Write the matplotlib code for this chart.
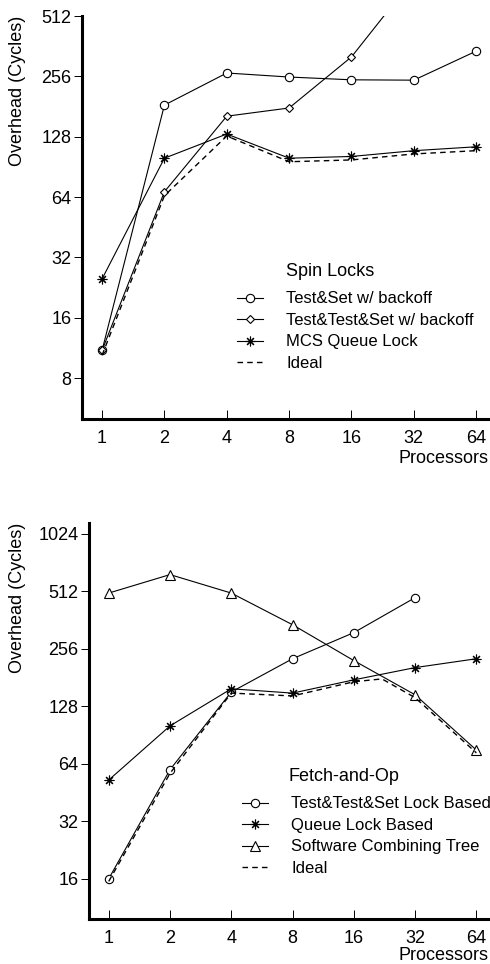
import numpy as np
import matplotlib
matplotlib.use("Agg")
import matplotlib.pyplot as plt
from matplotlib.lines import Line2D
from matplotlib.ticker import FixedLocator, FixedFormatter, NullLocator

plt.rcParams['font.family'] = ['Liberation Sans', 'DejaVu Sans']

# processor counts on the x axis
procs = [1, 2, 4, 8, 16, 32, 64]

# spin locks (top panel)
spin_ts_backoff = [11, 184, 266, 254, 246, 245, 342]
spin_tts_backoff = [11, 68, 162, 178, 320, 790]          # leaves the plot after 16
spin_mcs = [25, 100, 132, 100, 102, 109, 114]
spin_ideal = [10.4, 65, 129, 96, 98, 105, 109]

# fetch-and-op (bottom panel)
fop_tts_lock = [16, 59.6, 152, 227, 311, 474]             # 1..32 only
fop_queue_lock = [52.6, 101, 158, 150, 176, 204, 227]
fop_comb_tree = [501, 626, 501, 342, 222, 147, 75.5]
fop_ideal_procs = [1, 2, 4, 8, 16, 22, 32, 64]
fop_ideal = [15.5, 57, 150, 145, 172, 178, 142, 73]

spin_yticks = [8, 16, 32, 64, 128, 256, 512]
fop_yticks = [16, 32, 64, 128, 256, 512, 1024]

STAR = (8, 2, 0)
line_kw = dict(color='black', lw=0.8, mfc='white', mec='black', mew=0.8)


def style_axes(ax, yticks, ylim, xlabelpad):
    ax.set_xscale('log', base=2)
    ax.set_yscale('log', base=2)
    ax.set_xlim(0.8, 73)
    ax.set_ylim(*ylim)
    ax.xaxis.set_major_locator(FixedLocator(procs))
    ax.xaxis.set_major_formatter(FixedFormatter([str(p) for p in procs]))
    ax.xaxis.set_minor_locator(NullLocator())
    ax.yaxis.set_major_locator(FixedLocator(yticks))
    ax.yaxis.set_major_formatter(FixedFormatter([str(t) for t in yticks]))
    ax.yaxis.set_minor_locator(NullLocator())
    for s in ('top', 'right'):
        ax.spines[s].set_visible(False)
    for s in ('left', 'bottom'):
        ax.spines[s].set_linewidth(2.2)
    ax.tick_params(axis='y', direction='out', length=6, width=0.7, pad=1.5, labelsize=13)
    ax.tick_params(axis='x', direction='in', length=6.5, width=0.7, pad=8, labelsize=13)
    ax.set_xlabel('Processors', loc='right', fontsize=13, labelpad=xlabelpad)
    ax.set_ylabel('Overhead (Cycles)', loc='top', fontsize=13)


fig = plt.figure(figsize=(4.9, 9.64), dpi=100)

# ---- Spin locks ----
ax1 = fig.add_axes([82 / 490, 1 - 419 / 964, 406 / 490, 403 / 964])
ax1.plot(procs, spin_ts_backoff, marker='o', ms=6, **line_kw)
ax1.plot(procs[:len(spin_tts_backoff)], spin_tts_backoff, marker='D', ms=4.5, **line_kw)
ax1.plot(procs, spin_mcs, marker=STAR, ms=7, **line_kw)
ax1.plot(procs, spin_ideal, color='black', lw=1.0, ls=(0, (4, 3)))
style_axes(ax1, spin_yticks, (5, 512), 2)
ax1.yaxis.set_label_coords(-0.138, 1.0)

h1 = [Line2D([], [], marker='o', ms=6, **line_kw),
      Line2D([], [], marker='D', ms=4.5, **line_kw),
      Line2D([], [], marker=STAR, ms=7, **line_kw),
      Line2D([], [], color='black', lw=1.0, ls=(0, (4, 3)))]
ax1.legend(h1, ['Test&Set w/ backoff', 'Test&Test&Set w/ backoff',
                'MCS Queue Lock', 'Ideal'],
           loc='upper left', bbox_to_anchor=(0.382, 0.3166), frameon=False,
           borderpad=0, borderaxespad=0, fontsize=12, handlelength=1.56,
           handletextpad=1.38, labelspacing=0.39)
ax1.text(0.502, 0.366, 'Spin Locks', transform=ax1.transAxes, fontsize=13,
         ha='left', va='center')

# ---- Fetch-and-op ----
ax2 = fig.add_axes([89 / 490, 1 - 919 / 964, 399 / 490, 396 / 964])
ax2.plot(procs[:len(fop_tts_lock)], fop_tts_lock, marker='o', ms=6, **line_kw)
ax2.plot(procs, fop_queue_lock, marker=STAR, ms=7, **line_kw)
ax2.plot(procs, fop_comb_tree, marker='^', ms=7, **line_kw)
ax2.plot(fop_ideal_procs, fop_ideal, color='black', lw=1.0, ls=(0, (4, 3)))
style_axes(ax2, fop_yticks, (9.85, 1166), 0)
ax2.yaxis.set_label_coords(-0.158, 1.0)

h2 = [Line2D([], [], marker='o', ms=6, **line_kw),
      Line2D([], [], marker=STAR, ms=7, **line_kw),
      Line2D([], [], marker='^', ms=7, **line_kw),
      Line2D([], [], color='black', lw=1.0, ls=(0, (4, 3)))]
ax2.legend(h2, ['Test&Test&Set Lock Based', 'Queue Lock Based',
                'Software Combining Tree', 'Ideal'],
           loc='upper left', bbox_to_anchor=(0.3835, 0.3094), frameon=False,
           borderpad=0, borderaxespad=0, fontsize=12, handlelength=1.56,
           handletextpad=1.38, labelspacing=0.39)
ax2.text(0.501, 0.359, 'Fetch-and-Op', transform=ax2.transAxes, fontsize=13,
         ha='left', va='center')

fig.savefig('out.png', dpi=100)
